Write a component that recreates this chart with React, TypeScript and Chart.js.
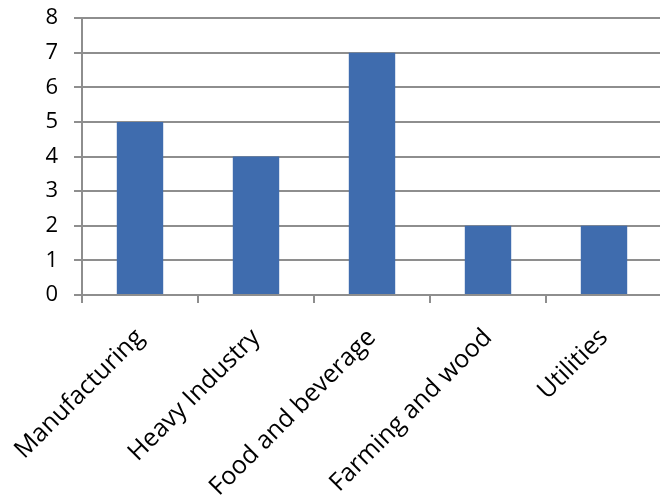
import React, { useEffect, useRef } from "react";
import { Chart, registerables } from "chart.js";

Chart.register(...registerables);

const categories = ["Manufacturing", "Heavy Industry", "Food and beverage", "Farming and wood", "Utilities"];
const values = [5, 4, 7, 2, 2];
const yTicks = [0, 1, 2, 3, 4, 5, 6, 7, 8];

export default function App() {
  const ref = useRef<HTMLCanvasElement>(null);
  useEffect(() => {
    document.body.style.margin = "0";
    document.body.style.overflow = "hidden";
    const ctx = ref.current!;
    const grid = "#8e8e8e";
    const chart = new Chart(ctx, {
      type: "bar",
      data: {
        labels: categories,
        datasets: [
          {
            data: values,
            backgroundColor: "#3f6cae",
            barPercentage: 0.4,
            categoryPercentage: 1,
          },
        ],
      },
      options: {
        responsive: false,
        animation: false,
        layout: { padding: { top: 18, right: 0, left: 0, bottom: 0 } },
        plugins: { legend: { display: false }, tooltip: { enabled: false } },
        scales: {
          x: {
            grid: { drawOnChartArea: false, color: grid, lineWidth: 2, tickLength: 8, offset: true },
            border: { color: grid, width: 2 },
            ticks: {
              minRotation: 45,
              maxRotation: 45,
              padding: 20,
              color: "#000",
              font: { family: "'Open Sans'", size: 25 },
            },
            afterFit: (s: any) => {
              s.height = 200;
              s.paddingLeft = 0;
              s.paddingRight = 0;
            },
          },
          y: {
            min: 0,
            max: 8,
            afterBuildTicks: (s: any) => {
              s.ticks = yTicks.map((v) => ({ value: v }));
            },
            grid: { color: grid, lineWidth: 2, tickLength: 8 },
            border: { color: grid, width: 2 },
            ticks: {
              padding: 16,
              color: "#000",
              font: { family: "'Open Sans'", size: 22 },
            },
            afterFit: (s: any) => {
              s.width = 82;
              s.paddingTop = 0;
              s.paddingBottom = 0;
            },
          },
        },
      },
    });
    return () => chart.destroy();
  }, []);
  return (
    <div style={{ position: "fixed", left: 0, top: 0 }}>
      <canvas ref={ref} width={662} height={495} style={{ display: "block" }} />
    </div>
  );
}
